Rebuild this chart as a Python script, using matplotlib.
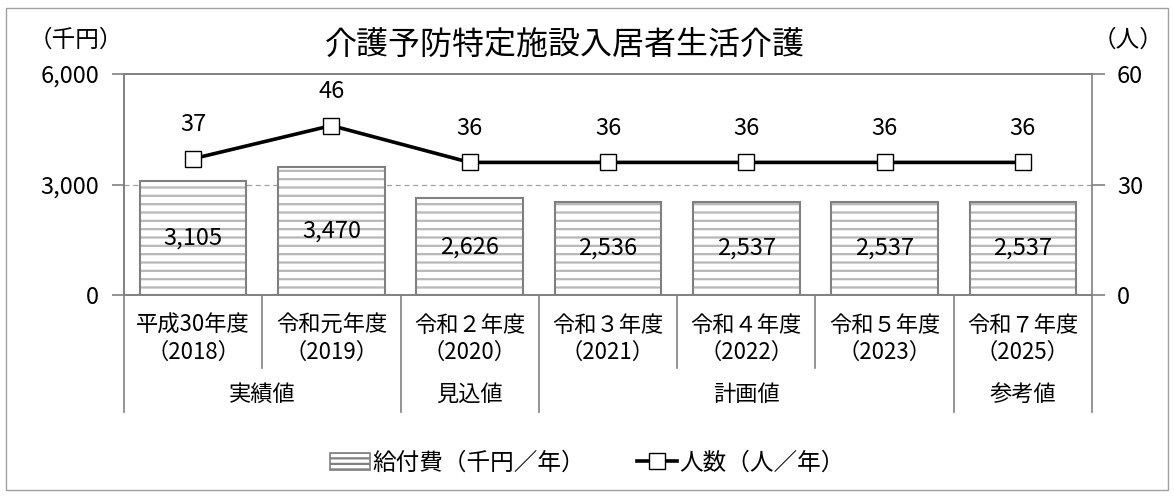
import matplotlib.pyplot as plt
import matplotlib.transforms as mtransforms
from matplotlib.patches import Rectangle, Patch
from matplotlib.lines import Line2D

plt.rcParams['font.family'] = ['Noto Sans CJK JP', 'DejaVu Sans']
plt.rcParams['hatch.linewidth'] = 1.6

# data
years = ['平成30年度', '令和元年度', '令和２年度', '令和３年度', '令和４年度', '令和５年度', '令和７年度']
years_ad = ['（2018）', '（2019）', '（2020）', '（2021）', '（2022）', '（2023）', '（2025）']
cost = [3105, 3470, 2626, 2536, 2537, 2537, 2537]
people = [37, 46, 36, 36, 36, 36, 36]
groups = ['実績値', '見込値', '計画値', '参考値']
group_spans = [(0, 1), (2, 2), (3, 5), (6, 6)]

grey = '#808080'
fs = 16
fig = plt.figure(figsize=(11.74, 4.99), dpi=100)
ax = fig.add_axes([124 / 1174, 1 - 295 / 499, (1092 - 124) / 1174, 221 / 499])
ax2 = ax.twinx()

x = list(range(len(cost)))
# hatched fill, then outline on top
ax.bar(x, cost, width=0.77, color='white', edgecolor='#b8b8b8', hatch='--', linewidth=0, zorder=2)
ax.bar(x, cost, width=0.77, fill=False, edgecolor=grey, linewidth=1.5, zorder=3)
for xi, v in zip(x, cost):
    ax.text(xi, v / 2, f'{v:,}', ha='center', va='center', fontsize=17, zorder=4)

ax.set_xlim(-0.5, len(cost) - 0.5)
ax.set_ylim(0, 6000)
ax.set_yticks([0, 3000, 6000])
ax.set_yticklabels(['0', '3,000', '6,000'])
ax.axhline(3000, color='#a0a0a0', linestyle=(0, (4, 3)), linewidth=0.9, zorder=1)
ax.set_xticks([])

ax2.set_ylim(0, 60)
ax2.set_yticks([0, 30, 60])
ax2.plot(x, people, color='black', linewidth=2.6, marker='s', markersize=12,
         markerfacecolor='white', markeredgecolor='black', markeredgewidth=1.0, zorder=5)
for xi, v in zip(x, people):
    ax2.annotate(str(v), (xi, v), xytext=(0, 16), textcoords='offset points',
                 ha='center', va='bottom', fontsize=17)

for a in (ax, ax2):
    for s in a.spines.values():
        s.set_color(grey)
        s.set_linewidth(1.2)
    a.tick_params(axis='y', length=9, width=1.2, color=grey, labelsize=17, pad=9)
ax.spines['right'].set_visible(False)

# category axis table
trans = mtransforms.blended_transform_factory(ax.transData, ax.transAxes)
for xi in range(len(cost) + 1):
    xs = xi - 0.5
    long_line = xs in (-0.5, 1.5, 2.5, 5.5, 6.5)
    y_end = -0.529 if long_line else -0.33
    ax.add_line(Line2D([xs, xs], [0, y_end], transform=trans, color=grey,
                       linewidth=1.2, clip_on=False))
for xi in x:
    ax.text(xi, -0.136, years[xi], transform=trans, ha='center', va='center', fontsize=fs)
    ax.text(xi, -0.258, years_ad[xi], transform=trans, ha='center', va='center', fontsize=fs)
for g, (a0, a1) in zip(groups, group_spans):
    ax.text((a0 + a1) / 2, -0.448, g, transform=trans, ha='center', va='center', fontsize=fs)

# titles
fig.text(565 / 1174, 1 - 45 / 499, '介護予防特定施設入居者生活介護', ha='center', va='center', fontsize=23)
fig.text(76 / 1174, 1 - 40 / 499, '（千円）', ha='center', va='center', fontsize=17)
fig.text(1128 / 1174, 1 - 40 / 499, '（人）', ha='center', va='center', fontsize=17)

# legend
handles = [Patch(facecolor='white', edgecolor=grey, hatch='---', linewidth=1.2),
           Line2D([], [], color='black', linewidth=2.6, marker='s', markersize=12,
                  markerfacecolor='white', markeredgecolor='black')]
fig.legend(handles, ['給付費（千円／年）', '人数（人／年）'], loc='center',
           bbox_to_anchor=(0.5, 1 - 463 / 499), ncol=2, frameon=False, fontsize=17,
           handlelength=1.7, handletextpad=0.1, columnspacing=2.2)

# outer frame
fig.patches.append(Rectangle((6 / 1174, 1 - 490 / 499), 1162 / 1174, 482 / 499,
                             transform=fig.transFigure, fill=False, edgecolor='#a0a0a0',
                             linewidth=1.0))

fig.savefig('out.png', dpi=100)
